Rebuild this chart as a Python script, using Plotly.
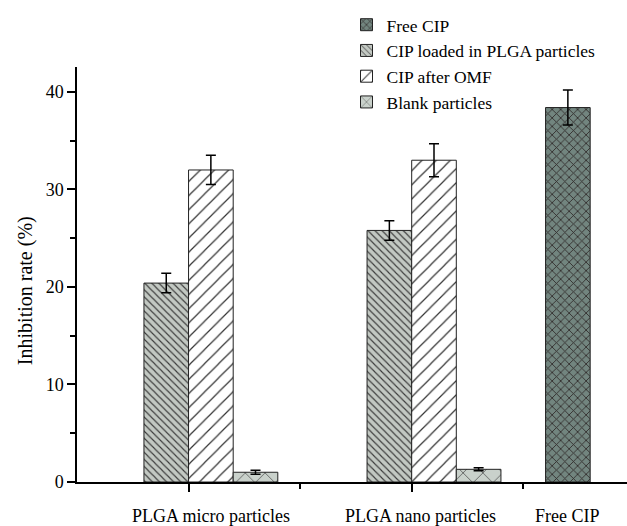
import plotly.graph_objects as go

# ---- data ----
group_pos = [1, 2, 3]
group_labels = ["PLGA micro particles", "PLGA nano particles", "Free CIP"]
label_pos = [1.1, 2.04, 2.7]

series_names = ["Free CIP", "CIP loaded in PLGA particles", "CIP after OMF", "Blank particles"]
free_x = [3]
free_vals = [38.4]
free_err = [1.8]

part_x = [1, 2]
loaded_vals = [20.4, 25.8]
loaded_err = [1.0, 1.0]
omf_vals = [32.0, 33.0]
omf_err = [1.5, 1.7]
blank_vals = [1.0, 1.3]
blank_err = [0.2, 0.15]

y_ticks = [0, 10, 20, 30, 40]

FONT = "Liberation Serif, Times New Roman, serif"

styles = [
    dict(shape="x", bg="#72857f", fg="#2b2424", size=6, sol=0.25),
    dict(shape="\\", bg="#c2c8c2", fg="#3a3a3a", size=5, sol=0.22),
    dict(shape="/", bg="#ffffff", fg="#333333", size=10, sol=0.12),
    dict(shape="x", bg="#c9d1cb", fg="#444444", size=14, sol=0.1),
]

xs = [free_x, part_x, part_x, part_x]
ys = [free_vals, loaded_vals, omf_vals, blank_vals]
es = [free_err, loaded_err, omf_err, blank_err]

fig = go.Figure()
for name, x, y, e, st in zip(series_names, xs, ys, es, styles):
    fig.add_trace(go.Bar(
        name=name, x=x, y=y,
        error_y=dict(type="data", array=e, color="black", thickness=1.5, width=5),
        marker=dict(
            color=st["bg"],
            line=dict(color="#222222", width=1),
            pattern=dict(shape=st["shape"], bgcolor=st["bg"], fgcolor=st["fg"],
                         size=st["size"], solidity=st["sol"], fillmode="replace"),
        ),
    ))

for lab, xp in zip(group_labels, label_pos):
    fig.add_annotation(x=xp, xref="x", y=0, yref="paper", yanchor="middle",
                       yshift=-34, text=lab, showarrow=False,
                       font=dict(family=FONT, size=18, color="black"))

fig.add_annotation(x=-0.0945, xref="paper", y=0.46, yref="paper",
                   xanchor="center", yanchor="middle", textangle=-90,
                   text="Inhibition rate (%)", showarrow=False,
                   font=dict(family=FONT, size=20, color="black"))

fig.update_layout(
    width=627, height=526,
    margin=dict(l=77, r=0, t=67, b=44),
    paper_bgcolor="white", plot_bgcolor="white",
    barmode="group", bargap=0.2, bargroupgap=0,
    font=dict(family=FONT, size=18, color="black"),
    legend=dict(x=0.49, y=1.145, xanchor="left", yanchor="top",
                bgcolor="rgba(0,0,0,0)", font=dict(family=FONT, size=17.5),
                tracegroupgap=0),
    xaxis=dict(range=[0.5, 2.965], tickmode="array", tickvals=[1, 2],
               ticktext=["", ""], ticks="outside", ticklen=8, tickwidth=1.5,
               tickcolor="black", showline=True, linecolor="black", linewidth=1.5,
               showgrid=False, zeroline=False,
               minor=dict(tickmode="array", tickvals=[1.5, 2.5], ticks="outside",
                          ticklen=5, tickwidth=1.5, tickcolor="black")),
    yaxis=dict(range=[0, 42.56], tickmode="array", tickvals=y_ticks,
               ticks="outside", ticklen=8, tickwidth=1.5, tickcolor="black",
               showline=True, linecolor="black", linewidth=1.5,
               showgrid=False, zeroline=False,
               tickfont=dict(family=FONT, size=18),
               minor=dict(dtick=5, ticks="outside", ticklen=5, tickwidth=1.5,
                          tickcolor="black", showgrid=False)),
)

fig.write_html("out.html")
